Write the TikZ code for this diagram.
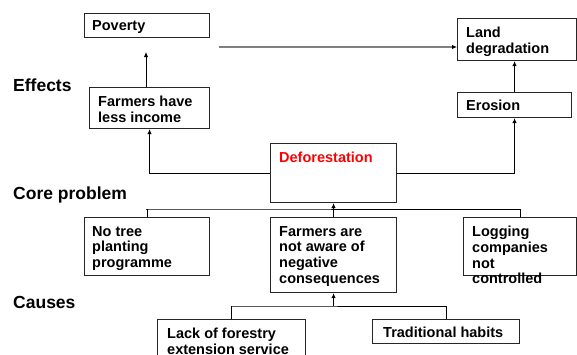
\documentclass[tikz,border=0pt]{standalone}
\usepackage{fontspec}
\setmainfont{Liberation Sans}
\usetikzlibrary{arrows.meta}
\tikzset{
  box/.style={draw=black!85, line width=1.1pt, rectangle, inner sep=0pt, anchor=north west},
  txt/.style={inner sep=0pt, anchor=north west, align=left, font=\fontsize{14.5}{15.7}\selectfont\bfseries},
  lbl/.style={inner sep=0pt, anchor=north west, font=\fontsize{17.5}{19}\selectfont\bfseries},
  conn/.style={draw=black, line width=0.9pt, -{Latex[length=5pt,width=4.5pt]}},
  plain/.style={draw=black, line width=0.9pt},
}
\begin{document}
\begin{tikzpicture}[x=1pt,y=-1pt]
\useasboundingbox (0,0) rectangle (577,354);
\clip (0,0) rectangle (577,354);
\fill[white] (0,0) rectangle (577,354);
% boxes
\node[box, minimum width=125pt, minimum height=24pt] (pov) at (84,13) {};
\node[box, minimum width=119pt, minimum height=42pt] (land) at (457,18) {};
\node[box, minimum width=114pt, minimum height=25pt] (ero) at (457,92) {};
\node[box, minimum width=120pt, minimum height=41pt] (inc) at (89,87) {};
\node[box, minimum width=126pt, minimum height=59pt] (defo) at (270,143) {};
\node[box, minimum width=125pt, minimum height=58pt] (notree) at (84,217) {};
\node[box, minimum width=126pt, minimum height=75pt] (aware) at (270,217) {};
\node[box, minimum width=113pt, minimum height=58pt] (log) at (463,217) {};
\node[box, minimum width=148pt, minimum height=50pt] (lack) at (157,319) {};
\node[box, minimum width=147pt, minimum height=24pt] (trad) at (372,319) {};
% texts
\node[txt] (povt) at (92,20) {Poverty};
\node[txt] (landt) at (466,27) {Land\\degradation};
\node[txt] (erot) at (466,100) {Erosion};
\node[txt] (inct) at (98,96) {Farmers have\\less income};
\node[txt, text=red] (defot) at (279,152) {Deforestation};
\node[txt] (notreet) at (92,226) {No tree\\planting\\programme};
\node[txt] (awaret) at (279,226) {Farmers are\\not aware of\\negative\\consequences};
\node[txt] (logt) at (472,226) {Logging\\companies\\not\\controlled};
\node[txt] (lackt) at (167,328) {Lack of forestry\\extension service};
\node[txt] (tradt) at (383,327) {Traditional habits};
% row labels
\node[lbl] (eff) at (13,79) {Effects};
\node[lbl] (core) at (13,187) {Core problem};
\node[lbl] (cau) at (13,296) {Causes};
% connectors
\coordinate (povtip) at (146,52);
\coordinate (gstart) at (219,47);
\draw[conn] (inc.north -| povtip) -- (povtip);
\draw[draw=black!50, line width=1.2pt, -{Latex[length=5pt,width=4.5pt,color=black]}] (gstart) -- (gstart -| land.west);
\draw[conn] (ero.north) -- (ero.north |- land.south);
\draw[conn] (defo.west) -| (inc.south);
\draw[conn] (defo.east) -| (ero.south);
\coordinate (bar1) at (146,209);
\draw[plain] (notree.north) |- (bar1) -| (log.north);
\draw[conn] (aware.north) -- (defo.south);
\coordinate (bar2) at (231,306);
\draw[plain] (lack.north) |- (bar2) -| (trad.north);
\draw[conn] (aware.south |- bar2) -- (aware.south);
\end{tikzpicture}
\end{document}
